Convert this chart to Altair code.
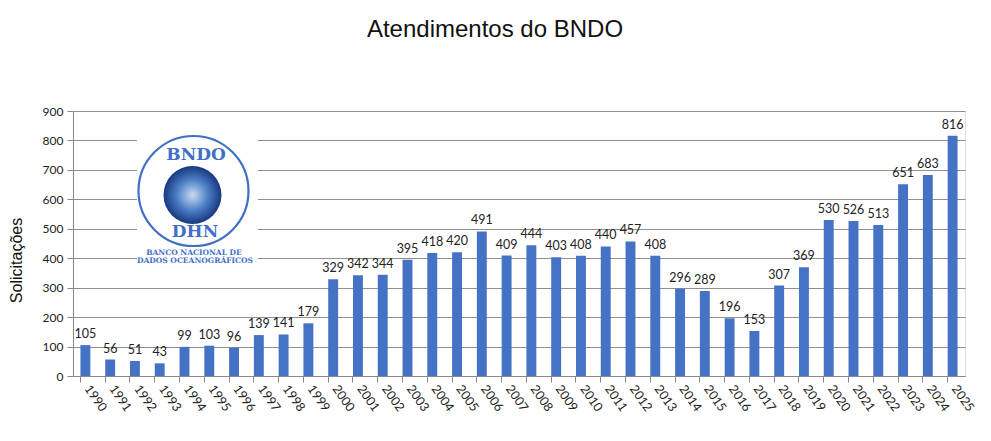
import altair as alt
import pandas as pd

years = [str(y) for y in range(1990, 2026)]
values = [105, 56, 51, 43, 99, 103, 96, 139, 141, 179,
          329, 342, 344, 395, 418, 420, 491, 409, 444, 403,
          408, 440, 457, 408, 296, 289, 196, 153, 307, 369,
          530, 526, 513, 651, 683, 816]
y_ticks = [0, 100, 200, 300, 400, 500, 600, 700, 800, 900]
title_text = "Atendimentos do BNDO"
y_title = "Solicitações"
logo_top = "BNDO"
logo_mid = "DHN"
logo_line1 = "BANCO NACIONAL DE"
logo_line2 = "DADOS OCEANOGRÁFICOS"

df = pd.DataFrame({"ano": years, "valor": values})
one = pd.DataFrame({"k": [0]})

W, H = 892, 265
BLUE = "#4472C4"
LOGO_BLUE = "#3f6fc6"

x_enc = alt.X("ano:N", sort=years,
              scale=alt.Scale(paddingInner=0.6, paddingOuter=0.3),
              axis=alt.Axis(title=None, labelAngle=55, labelFont="Lato",
                            labelFontSize=12.5, labelColor="#222",
                            domainColor="#888", tickColor="#888", tickSize=6,
                            bandPosition=0, labelOffset=2, labelPadding=4,
                            labelOverlap=False, grid=False))
y_enc = alt.Y("valor:Q", scale=alt.Scale(domain=[0, 900], nice=False),
              axis=alt.Axis(values=y_ticks, title=y_title, titleFont="Liberation Sans",
                            titleFontSize=16, titleFontWeight="normal", titleColor="#111",
                            titleAngle=-90, titleAlign="center", titleBaseline="middle",
                            titleX=-57, titleY=149, labelOverlap=False,
                            labelFont="Lato", labelFontSize=12, labelColor="#222",
                            labelPadding=4, domainColor="#888", tickColor="#888",
                            tickSize=6, gridColor="#8f8f8f", grid=True))

base = alt.Chart(df)
bars = base.mark_bar(color=BLUE).encode(x=x_enc, y=y_enc)
labels = base.mark_text(font="Lato", fontSize=12.5, color="#222", baseline="bottom", dy=-4).encode(
    x=x_enc, y=y_enc, text="valor:Q")

lb = alt.Chart(one)
box = lb.mark_rect(color="white").encode(
    x=alt.value(64), x2=alt.value(185), y=alt.value(27), y2=alt.value(154))
ring = lb.mark_point(shape="circle", filled=False, stroke=LOGO_BLUE, strokeWidth=2.2,
                     size=12100, opacity=1).encode(x=alt.value(120.5), y=alt.value(80))
globe = lb.mark_point(shape="circle", filled=True, opacity=1, size=3364,
                      color=alt.Gradient(gradient="radial",
                                         stops=[alt.GradientStop(color="#c9dcf2", offset=0),
                                                alt.GradientStop(color="#4a7cc4", offset=0.55),
                                                alt.GradientStop(color="#17387e", offset=1)])
                      ).encode(x=alt.value(119.5), y=alt.value(84))
t1 = lb.mark_text(font="DejaVu Serif", fontWeight="bold", fontSize=17, color=LOGO_BLUE,
                  baseline="middle").encode(
    x=alt.value(123), y=alt.value(44), text=alt.value(logo_top))
t2 = lb.mark_text(font="DejaVu Serif", fontWeight="bold", fontSize=17, color=LOGO_BLUE,
                  baseline="middle").encode(
    x=alt.value(122), y=alt.value(121), text=alt.value(logo_mid))
t3 = lb.mark_text(font="DejaVu Serif", fontWeight="bold", fontSize=7.5, color=LOGO_BLUE,
                  baseline="middle").encode(
    x=alt.value(121), y=alt.value(142), text=alt.value(logo_line1))
t4 = lb.mark_text(font="DejaVu Serif", fontWeight="bold", fontSize=7.5, color=LOGO_BLUE,
                  baseline="middle").encode(
    x=alt.value(122), y=alt.value(150), text=alt.value(logo_line2))

chart = alt.layer(bars, labels, box, ring, globe, t1, t2, t3, t4).properties(
    width=W, height=H,
    title=alt.TitleParams(title_text, font="Liberation Sans", fontSize=24,
                          fontWeight="normal", color="#111", anchor="middle",
                          dx=-24, offset=63),
    autosize=alt.AutoSizeParams(type="none"),
    padding={"left": 65, "top": 103, "right": 18, "bottom": 57},
).configure_view(stroke=None).configure(background="white")

chart.save("out.html", embed_options={"renderer": "svg", "actions": False})
